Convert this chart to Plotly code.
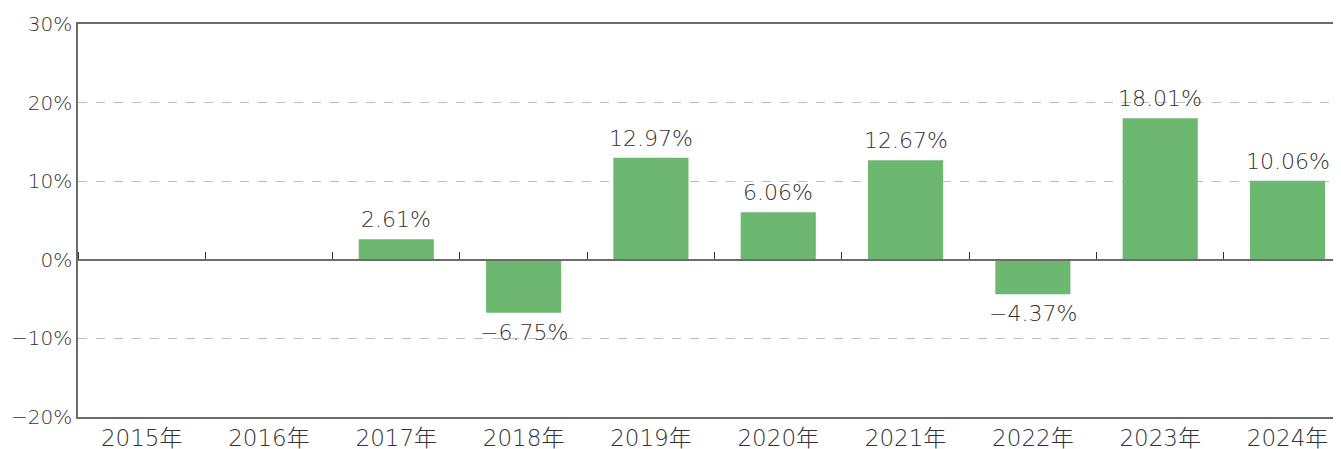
import plotly.graph_objects as go

categories = ["2015年", "2016年", "2017年", "2018年", "2019年", "2020年", "2021年", "2022年", "2023年", "2024年"]
returns = [None, None, 2.61, -6.75, 12.97, 6.06, 12.67, -4.37, 18.01, 10.06]
labels = ["" if v is None else ("−" if v < 0 else "") + f"{abs(v):.2f}%" for v in returns]
y_ticks = [-20, -10, 0, 10, 20, 30]
y_ticktext = ["−20%", "−10%", "0%", "10%", "20%", "30%"]

FONT = "DejaVu Sans, Noto Sans CJK JP, sans-serif"
TEXT = "#333333"
AXIS = "#6b6b6b"

fig = go.Figure()
fig.add_trace(go.Bar(
    x=categories, y=returns,
    marker=dict(color="#6db870", line=dict(width=0)),
    hoverinfo="skip",
))
fig.add_trace(go.Scatter(x=categories, y=[0] * len(categories), xaxis="x2", mode="none",
                         showlegend=False, hoverinfo="skip"))

for cat, val, lab in zip(categories, returns, labels):
    if val is None:
        continue
    pos = val >= 0
    fig.add_annotation(
        x=cat, y=val, text=lab, showarrow=False,
        yanchor="bottom" if pos else "top", yshift=5 if pos else -5,
        font=dict(family=FONT, size=22, color=TEXT, weight=200),
    )

# the page body adds an 8px offset, so the figure is sized to the remaining space;
# the category axis runs a little past the right edge as in the reference crop
fig.update_layout(
    width=1333, height=441,
    margin=dict(l=70, r=0, t=16, b=32, autoexpand=False),
    paper_bgcolor="white", plot_bgcolor="white",
    showlegend=False, bargap=0.41,
    font=dict(family=FONT, size=20, color=TEXT, weight=200),
    xaxis=dict(
        type="category", showline=True, linecolor=AXIS, linewidth=1.5, mirror=True,
        ticks="", showgrid=False, automargin=False,
        tickfont=dict(family=FONT, size=23, color=TEXT, weight=200),
        range=[-0.5, 9.42],
    ),
    xaxis2=dict(
        type="category", overlaying="x", anchor="free", position=0.4, side="top",
        showline=True, linecolor=AXIS, linewidth=1.5, ticks="outside", tickson="boundaries",
        ticklen=7, tickcolor="#333", tickwidth=1, showticklabels=False, showgrid=False,
        automargin=False, range=[-0.5, 9.42],
    ),
    yaxis=dict(
        range=[-20, 30], tickmode="array", tickvals=y_ticks, ticktext=y_ticktext,
        showline=True, linecolor=AXIS, automargin=False,
        linewidth=1.5, showgrid=True, gridcolor="#bdbdbd", griddash="dash", gridwidth=1,
        zeroline=False, ticks="", tickfont=dict(family=FONT, size=20, color=TEXT, weight=200),
    ),
)

fig.write_html("out.html")
